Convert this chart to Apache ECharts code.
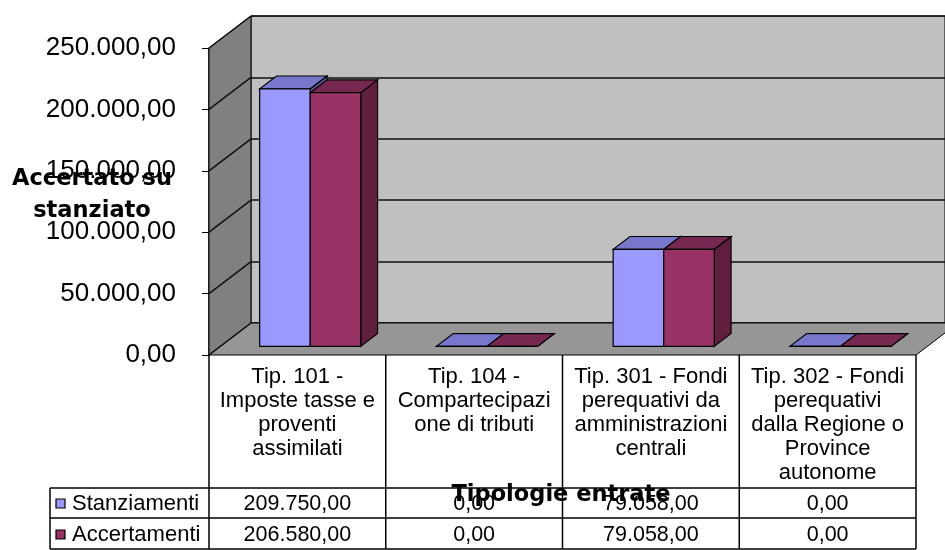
<!DOCTYPE html>
<html>
<head>
<meta charset="utf-8">
<script src="https://cdn.jsdelivr.net/npm/echarts@6/dist/echarts.min.js"></script>
<style>
html, body { margin: 0; padding: 0; background: #fff; }
#chart { width: 945px; height: 550px; }
</style>
</head>
<body>
<div id="chart"></div>
<script>
var categorie = [
    'Tip. 101 -\nImposte tasse e\nproventi\nassimilati',
    'Tip. 104 -\nCompartecipazi\none di tributi',
    'Tip. 301 - Fondi\nperequativi da\namministrazioni\ncentrali',
    'Tip. 302 - Fondi\nperequativi\ndalla Regione o\nProvince\nautonome'
];
var stanziamenti = [209750, 0, 79058, 0];
var accertamenti = [206580, 0, 79058, 0];
var nomiSerie = ['Stanziamenti', 'Accertamenti'];
var yTicks = [0, 50000, 100000, 150000, 200000, 250000];

var DX = 42, DY = -32;   // profondita' delle pareti
var FONT = '"Liberation Sans", Arial, sans-serif';
var colori = [
    {front: '#9999FF', top: '#7777CC', side: '#5C5C99'},
    {front: '#993366', top: '#772850', side: '#611F40'}
];

function fmt(v) {
    return Math.round(v).toString().replace(/\B(?=(\d{3})+(?!\d))/g, '.') + ',00';
}

function renderWalls(params, api) {
    var cs = params.coordSys;
    var y = api.coord([0, api.value(1)])[1];
    var children = [];
    if (params.dataIndex === 0) {
        var base = cs.y + cs.height;
        children.push({
            type: 'polygon',
            shape: {points: [[cs.x, cs.y], [cs.x + DX, cs.y + DY], [cs.x + DX, base + DY], [cs.x, base]]},
            style: {fill: '#808080', stroke: '#000', lineWidth: 1}
        });
        children.push({
            type: 'polygon',
            shape: {points: [[cs.x, base], [cs.x + cs.width, base], [cs.x + cs.width + DX, base + DY], [cs.x + DX, base + DY]]},
            style: {fill: '#969696', stroke: '#000', lineWidth: 1}
        });
    }
    children.push({
        type: 'line',
        shape: {x1: cs.x, y1: y, x2: cs.x + DX, y2: y + DY},
        style: {stroke: '#111', lineWidth: 1.5}
    });
    return {type: 'group', children: children};
}

function renderBar(k) {
    return function (params, api) {
        var i = api.value(0), v = api.value(1);
        var band = api.size([1, 0])[0];
        var bw = band * 0.286;
        var c = api.coord([i, 0]);
        var t = api.coord([i, v]);
        var fx = DX * 0.27, fy = DY * 0.27;
        var bx = DX * 0.4, by = DY * 0.4;
        var x0 = c[0] - bw + k * bw + fx + 1.5;
        var x1 = x0 + bw;
        var yb = c[1] + fy, yt = t[1] + fy;
        var col = colori[k];
        var st = {stroke: '#000', lineWidth: 1.2};
        return {
            type: 'group',
            children: [
                {type: 'polygon', shape: {points: [[x1, yt], [x1 + bx, yt + by], [x1 + bx, yb + by], [x1, yb]]},
                 style: Object.assign({fill: col.side}, st)},
                {type: 'polygon', shape: {points: [[x0, yt], [x1, yt], [x1 + bx, yt + by], [x0 + bx, yt + by]]},
                 style: Object.assign({fill: col.top}, st)},
                {type: 'rect', shape: {x: x0, y: yt, width: bw, height: yb - yt},
                 style: Object.assign({fill: col.front}, st)}
            ]
        };
    };
}

function renderTable(params, api) {
    var i = api.value(0);
    var band = api.size([1, 0])[0];
    var c = api.coord([i, 0]);
    var xl = c[0] - band / 2, xr = c[0] + band / 2;
    var base = c[1];
    var ln = {stroke: '#000', lineWidth: 1.5};
    var children = [
        {type: 'line', shape: {x1: xl, y1: base, x2: xl, y2: 549}, style: ln},
        {type: 'line', shape: {x1: xl, y1: 488, x2: xr, y2: 488}, style: ln},
        {type: 'line', shape: {x1: xl, y1: 518, x2: xr, y2: 518}, style: ln},
        {type: 'line', shape: {x1: xl, y1: 549, x2: xr, y2: 549}, style: ln},
        {type: 'text', style: {x: c[0], y: base + 10, text: categorie[i], align: 'center', verticalAlign: 'top',
            fontSize: 22, lineHeight: 24, fontFamily: FONT, fill: '#000'}},
        {type: 'text', style: {x: c[0], y: 504, text: fmt(api.value(1)), align: 'center', verticalAlign: 'middle',
            fontSize: 21.5, fontFamily: FONT, fill: '#000'}},
        {type: 'text', style: {x: c[0], y: 535, text: fmt(api.value(2)), align: 'center', verticalAlign: 'middle',
            fontSize: 21.5, fontFamily: FONT, fill: '#000'}}
    ];
    if (i === categorie.length - 1) {
        children.push({type: 'line', shape: {x1: xr, y1: base, x2: xr, y2: 549}, style: ln});
    }
    return {type: 'group', children: children};
}

var lnStyle = {stroke: '#000', lineWidth: 1.5};
var legendGraphics = [
    {type: 'line', shape: {x1: 50, y1: 488, x2: 209, y2: 488}, style: lnStyle},
    {type: 'line', shape: {x1: 50, y1: 518, x2: 209, y2: 518}, style: lnStyle},
    {type: 'line', shape: {x1: 50, y1: 549, x2: 209, y2: 549}, style: lnStyle},
    {type: 'line', shape: {x1: 50, y1: 488, x2: 50, y2: 549}, style: lnStyle}
];
nomiSerie.forEach(function (nome, k) {
    var yc = 504 + k * 31;
    legendGraphics.push({type: 'rect', shape: {x: 56, y: yc - 5, width: 9, height: 9},
        style: {fill: colori[k].front, stroke: '#000', lineWidth: 1.2}});
    legendGraphics.push({type: 'text', style: {x: 72, y: yc, text: nome, verticalAlign: 'middle',
        fontSize: 22, fontFamily: FONT, fill: '#000'}});
});
legendGraphics.push({type: 'text', z: 100, style: {x: 92, y: 195, text: 'Accertato su\nstanziato', align: 'center',
    verticalAlign: 'middle', lineHeight: 32, fontSize: 22.5, fontWeight: 'bold', fontFamily: '"DejaVu Sans", sans-serif', fill: '#000'}});
legendGraphics.push({type: 'text', z: 100, style: {x: 561, y: 495, text: 'Tipologie entrate', align: 'center',
    verticalAlign: 'middle', fontSize: 22.5, fontWeight: 'bold', fontFamily: '"DejaVu Sans", sans-serif', fill: '#000'}});

var chart = echarts.init(document.getElementById('chart'));
var option = {
    animation: false,
    backgroundColor: '#fff',
    grid: [
        {left: 209, right: 29, top: 48, bottom: 195},
        {left: 209 + DX, right: 29 - DX, top: 48 + DY, bottom: 195 - DY,
         show: true, backgroundColor: '#C0C0C0', borderColor: '#000', borderWidth: 1}
    ],
    xAxis: [
        {type: 'category', gridIndex: 0, data: categorie, axisLine: {show: false}, axisTick: {show: false},
         axisLabel: {show: false}, splitLine: {show: false}},
        {type: 'category', gridIndex: 1, data: categorie, axisLine: {show: false}, axisTick: {show: false},
         axisLabel: {show: false}, splitLine: {show: false}}
    ],
    yAxis: [
        {type: 'value', gridIndex: 0, min: 0, max: 250000, interval: 50000,
         axisLine: {show: true, lineStyle: {color: '#000', width: 1.5}},
         axisTick: {show: true, length: 7, lineStyle: {color: '#000'}},
         axisLabel: {margin: 33, fontSize: 26, color: '#000', fontFamily: FONT, formatter: fmt},
         splitLine: {show: false}},
        {type: 'value', gridIndex: 1, min: 0, max: 250000, interval: 50000,
         axisLine: {show: false}, axisTick: {show: false}, axisLabel: {show: false},
         splitLine: {show: true, lineStyle: {color: '#111', width: 1.5}}}
    ],
    graphic: legendGraphics,
    series: [
        {type: 'custom', name: 'pareti', xAxisIndex: 0, yAxisIndex: 0, z: 1, silent: true,
         renderItem: renderWalls, data: yTicks.map(function (v) { return [0, v]; })},
        {type: 'custom', name: nomiSerie[0], xAxisIndex: 0, yAxisIndex: 0, z: 3,
         renderItem: renderBar(0), data: stanziamenti.map(function (v, i) { return [i, v]; })},
        {type: 'custom', name: nomiSerie[1], xAxisIndex: 0, yAxisIndex: 0, z: 3,
         renderItem: renderBar(1), data: accertamenti.map(function (v, i) { return [i, v]; })},
        {type: 'custom', name: 'tabella', xAxisIndex: 0, yAxisIndex: 0, z: 4, silent: true,
         renderItem: renderTable,
         data: categorie.map(function (c, i) { return [i, stanziamenti[i], accertamenti[i]]; })}
    ]
};
chart.setOption(option);
</script>
</body>
</html>
